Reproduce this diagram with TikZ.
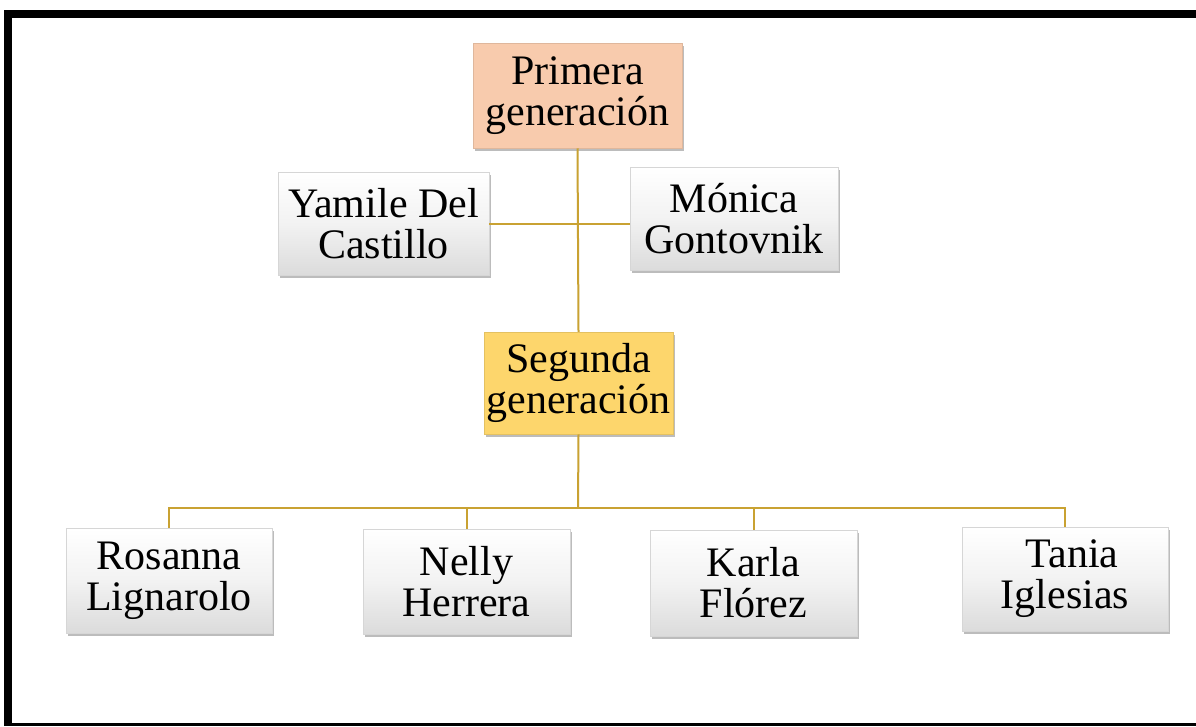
\documentclass[tikz,border=0pt]{standalone}
\usepackage{fontspec}
\setmainfont{Liberation Serif}
\usetikzlibrary{shadows}
\definecolor{peach}{HTML}{F8CBAD}
\definecolor{gold}{HTML}{FDD66C}
\definecolor{linec}{HTML}{C9A232}
\definecolor{boxedge}{HTML}{D6D6D6}
\tikzset{
  base/.style={rectangle, align=center, inner sep=0pt,
    font=\fontsize{42}{41}\selectfont,
    drop shadow={shadow xshift=2pt, shadow yshift=-3pt, opacity=0.4, fill=black!65}},
  person/.style={base, draw=boxedge, line width=0.8pt, top color=white, bottom color=black!14, middle color=white!95!black},
  gen1/.style={base, fill=peach, draw=peach!90!black, line width=0.5pt},
  gen2/.style={base, fill=gold, draw=gold!90!black, line width=0.5pt},
  conn/.style={draw=linec, line width=2pt}
}
\begin{document}
\begin{tikzpicture}[x=1pt,y=-1pt]
\useasboundingbox (0,0) rectangle (1196,726);
\fill[white] (0,0) rectangle (1196,726);
% frame
\fill[black] (4,10) rectangle (1196,18);
\fill[black] (4,10) rectangle (12,726);
\fill[black] (4,723) rectangle (1196,726);

\node[gen1, minimum width=209pt, minimum height=105pt] (prim) at (577.5,95.5) {Primera\\generación};
\node[person, minimum width=211pt, minimum height=103pt] (yam) at (383.5,223.5) {Yamile Del\\Castillo};
\node[person, minimum width=208pt, minimum height=103pt] (mon) at (734,218.5) {Mónica\\Gontovnik};
\node[gen2, minimum width=189pt, minimum height=102pt] (seg) at (578.5,383) {Segunda\\generación};
\node[person, minimum width=206pt, minimum height=105pt] (ros) at (169,580.5) {Rosanna\\Lignarolo};
\node[person, minimum width=207pt, minimum height=105pt] (nel) at (466.5,581.5) {Nelly\\Herrera};
\node[person, minimum width=207pt, minimum height=106pt] (kar) at (753.5,583) {Karla\\Flórez};
\node[person, minimum width=206pt, minimum height=104pt] (tan) at (1065,579) {\hspace*{14pt}Tania\\Iglesias};

\coordinate (bus) at (578,508);
\draw[conn] (prim.south) -- (seg.north);
\draw[conn] (yam.east) -- (yam.east -| mon.west);
\draw[conn] (seg.south) -- (bus);
\draw[conn] (ros.north) |- (bus);
\draw[conn] (nel.north) |- (bus);
\draw[conn] (kar.north) |- (bus);
\draw[conn] (tan.north) |- (bus);
\end{tikzpicture}
\end{document}
